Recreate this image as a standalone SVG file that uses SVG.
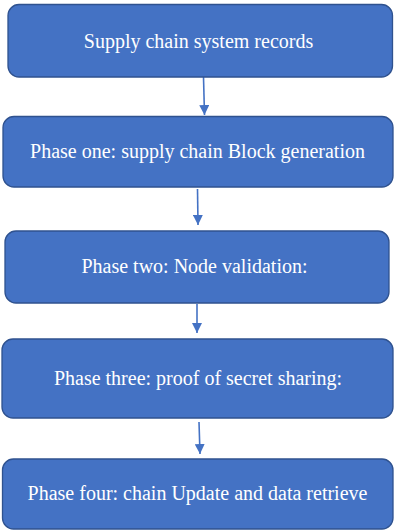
<svg xmlns="http://www.w3.org/2000/svg" width="394" height="530" viewBox="0 0 394 530">
<style>
.box{fill:#4472C4;stroke:#2F528F;stroke-width:1.3}
.lbl{font-family:"Liberation Serif","Times New Roman",serif;font-size:20px;fill:#FFFFFF;text-anchor:middle}
.con{stroke:#4472C4;stroke-width:1.6;fill:none}
</style>
<defs>
<marker id="ah" viewBox="0 0 10 10" refX="10" refY="5" markerWidth="10" markerHeight="10" markerUnits="userSpaceOnUse" orient="auto">
<path d="M0,0 L10,5 L0,10 Z" fill="#4472C4"/>
</marker>
</defs>
<rect width="394" height="530" fill="#FFFFFF"/>
<g id="connectors">
<line class="con" x1="203.5" y1="77" x2="204.5" y2="115" marker-end="url(#ah)"/>
<line class="con" x1="197.5" y1="189" x2="198" y2="225" marker-end="url(#ah)"/>
<line class="con" x1="197" y1="304" x2="197" y2="333" marker-end="url(#ah)"/>
<line class="con" x1="199" y1="422" x2="200" y2="454" marker-end="url(#ah)"/>
</g>
<g id="n1">
<rect class="box" x="8" y="4.5" width="384.5" height="72.5" rx="11"/>
<text class="lbl" x="198.5" y="47.5">Supply chain system records</text>
</g>
<g id="n2">
<rect class="box" x="3" y="116.5" width="390" height="70.5" rx="11"/>
<text class="lbl" x="197.5" y="157.5">Phase one: supply chain Block generation</text>
</g>
<g id="n3">
<rect class="box" x="5" y="231" width="384" height="72" rx="11"/>
<text class="lbl" x="194.5" y="273">Phase two: Node validation:</text>
</g>
<g id="n4">
<rect class="box" x="2" y="339" width="391" height="79" rx="11"/>
<text class="lbl" x="198" y="384.5">Phase three: proof of secret sharing:</text>
</g>
<g id="n5">
<rect class="box" x="2.5" y="459" width="390.5" height="70" rx="11"/>
<text class="lbl" x="197.5" y="500">Phase four: chain Update and data retrieve</text>
</g>
</svg>
